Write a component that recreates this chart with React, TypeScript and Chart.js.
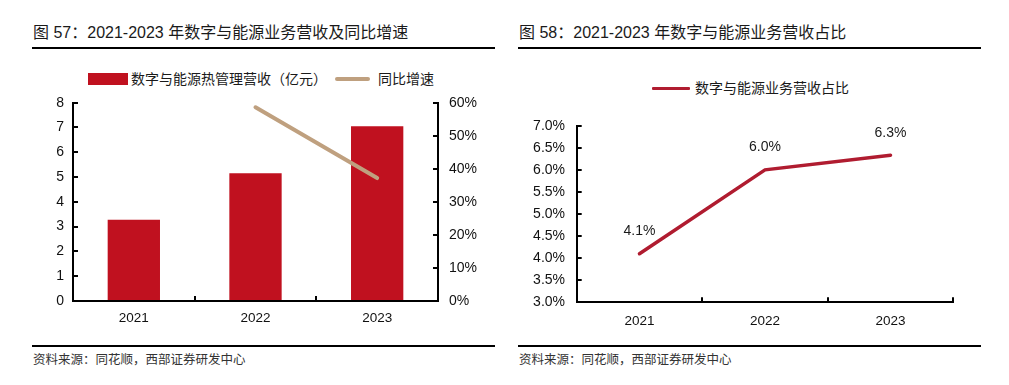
import React, { useEffect, useRef } from "react";
import { Chart, registerables } from "chart.js";

Chart.register(...registerables);

// ---------- data ----------
const years = ["2021", "2022", "2023"];
const revenue = [3.28, 5.15, 7.05]; // 数字与能源热管理营收（亿元）
const growth: (number | null)[] = [null, 58.6, 37.2]; // 同比增速 %
const revenueTicks = [0, 1, 2, 3, 4, 5, 6, 7, 8];
const growthTicks = [0, 10, 20, 30, 40, 50, 60];

const shareYears = ["2021", "2022", "2023"];
const share = [4.1, 6.0, 6.33]; // 数字与能源业务营收占比 %
const shareTicks = [3.0, 3.5, 4.0, 4.5, 5.0, 5.5, 6.0, 6.5, 7.0];

// ---------- styles ----------
const RED = "#c0111f";
const TAN = "#bfa07f";
const DARK_RED = "#b01c30";
const LATIN = "'Liberation Sans', Arial, 'Noto Sans CJK SC', sans-serif";
const CJK = "'Liberation Sans', 'Noto Sans CJK SC', sans-serif";

const axisGrid = {
  drawOnChartArea: false,
  drawTicks: true,
  tickLength: -5,
  color: "#000",
  lineWidth: 2,
};
const axisBorder = { color: "#000", width: 2 };

const fixY = (w: number) => (s: any) => {
  s.width = w;
  s.paddingTop = 8;
  s.paddingBottom = 8;
};

function LeftChart() {
  const ref = useRef<HTMLCanvasElement>(null);
  useEffect(() => {
    const chart = new Chart(ref.current!, {
      type: "bar",
      data: {
        labels: years,
        datasets: [
          {
            type: "line",
            label: "同比增速",
            data: growth,
            yAxisID: "y1",
            borderColor: TAN,
            backgroundColor: TAN,
            borderWidth: 4,
            borderCapStyle: "round",
            pointRadius: 0,
            order: 0,
          } as any,
          {
            type: "bar",
            label: "数字与能源热管理营收（亿元）",
            data: revenue,
            yAxisID: "y",
            backgroundColor: RED,
            categoryPercentage: 1,
            barPercentage: 0.43,
            order: 1,
          },
        ],
      },
      options: {
        animation: false,
        responsive: false,
        maintainAspectRatio: false,
        layout: { padding: { top: 12.7, left: 0, right: 0, bottom: 0 } },
        plugins: { legend: { display: false }, tooltip: { enabled: false } },
        scales: {
          x: {
            offset: true,
            grid: { ...axisGrid, offset: true },
            border: axisBorder,
            ticks: { padding: 14, color: "#111", font: { family: LATIN, size: 13.5 } },
            afterFit: (s: any) => {
              s.height = 34;
            },
          },
          y: {
            position: "left",
            min: revenueTicks[0],
            max: revenueTicks[revenueTicks.length - 1],
            grid: axisGrid,
            border: axisBorder,
            ticks: {
              stepSize: revenueTicks[1] - revenueTicks[0],
              padding: 14,
              color: "#111",
              font: { family: LATIN, size: 14 },
            },
            afterFit: fixY(73),
          },
          y1: {
            position: "right",
            min: growthTicks[0],
            max: growthTicks[growthTicks.length - 1],
            grid: axisGrid,
            border: axisBorder,
            ticks: {
              stepSize: growthTicks[1] - growthTicks[0],
              padding: 16,
              color: "#111",
              font: { family: LATIN, size: 14 },
              callback: (v: any) => `${v}%`,
            },
            afterFit: fixY(62),
          },
        },
      } as any,
    });
    return () => chart.destroy();
  }, []);
  return (
    <canvas
      ref={ref}
      width={500}
      height={245}
      style={{ position: "absolute", left: 0, top: 90, width: 500, height: 245 }}
    />
  );
}

const pointLabels = {
  id: "pointLabels",
  afterDatasetsDraw(chart: any) {
    const ctx = chart.ctx;
    const meta = chart.getDatasetMeta(0);
    const values = chart.data.datasets[0].data as number[];
    ctx.save();
    ctx.font = `14px ${LATIN}`;
    ctx.fillStyle = "#1a1a1a";
    ctx.textAlign = "center";
    ctx.textBaseline = "middle";
    meta.data.forEach((el: any, i: number) => {
      ctx.fillText(`${values[i].toFixed(1)}%`, el.x, el.y - 22.5);
    });
    ctx.restore();
  },
};

function RightChart() {
  const ref = useRef<HTMLCanvasElement>(null);
  useEffect(() => {
    const chart = new Chart(ref.current!, {
      type: "line",
      data: {
        labels: shareYears,
        datasets: [
          {
            label: "数字与能源业务营收占比",
            data: share,
            borderColor: DARK_RED,
            backgroundColor: DARK_RED,
            borderWidth: 3.5,
            borderCapStyle: "round",
            pointRadius: 0,
            tension: 0,
          },
        ],
      },
      options: {
        animation: false,
        responsive: false,
        maintainAspectRatio: false,
        layout: { padding: { top: 30.7, left: 0, right: 31.7, bottom: 0 } },
        plugins: { legend: { display: false }, tooltip: { enabled: false } },
        scales: {
          x: {
            offset: true,
            grid: { ...axisGrid, offset: true },
            border: axisBorder,
            ticks: { padding: 16, color: "#111", font: { family: LATIN, size: 13.5 } },
            afterFit: (s: any) => {
              s.height = 32.7;
            },
          },
          y: {
            min: shareTicks[0],
            max: shareTicks[shareTicks.length - 1],
            grid: axisGrid,
            border: axisBorder,
            ticks: {
              stepSize: shareTicks[1] - shareTicks[0],
              padding: 16.7,
              color: "#111",
              font: { family: LATIN, size: 14 },
              callback: (v: any) => `${Number(v).toFixed(1)}%`,
            },
            afterFit: fixY(71.7),
          },
        },
      } as any,
      plugins: [pointLabels],
    });
    return () => chart.destroy();
  }, []);
  return (
    <canvas
      ref={ref}
      width={480}
      height={240}
      style={{ position: "absolute", left: 505, top: 95, width: 480, height: 240 }}
    />
  );
}

const abs = (o: React.CSSProperties): React.CSSProperties => ({ position: "absolute", ...o });

export default function App() {
  const titleStyle: React.CSSProperties = {
    fontFamily: CJK,
    fontSize: 16,
    lineHeight: "20px",
    color: "#1a1a1a",
    whiteSpace: "nowrap",
  };
  const footStyle: React.CSSProperties = {
    fontFamily: CJK,
    fontSize: 12.5,
    letterSpacing: 0,
    lineHeight: "16px",
    color: "#333",
    whiteSpace: "nowrap",
  };
  const legendText: React.CSSProperties = {
    fontFamily: CJK,
    fontSize: 14,
    lineHeight: "18px",
    color: "#1a1a1a",
    whiteSpace: "nowrap",
  };
  return (
    <div style={abs({ left: 0, top: 0, width: 1009, height: 385, background: "#fff", overflow: "hidden" })}>
      {/* left panel */}
      <div style={abs({ left: 33, top: 23, ...titleStyle })}>图 57：2021-2023 年数字与能源业务营收及同比增速</div>
      <div style={abs({ left: 32, top: 47, width: 463, height: 1.5, background: "#000" })} />
      <div style={abs({ left: 88, top: 73, width: 40, height: 12, background: RED })} />
      <div style={abs({ left: 131, top: 70, ...legendText })}>数字与能源热管理营收（亿元）</div>
      <div style={abs({ left: 335, top: 77, width: 35, height: 4, background: TAN, borderRadius: 2 })} />
      <div style={abs({ left: 378, top: 70, ...legendText })}>同比增速</div>
      <LeftChart />
      <div style={abs({ left: 32, top: 345, width: 463, height: 1.5, background: "#000" })} />
      <div style={abs({ left: 33, top: 352, ...footStyle })}>资料来源：同花顺，西部证券研发中心</div>

      {/* right panel */}
      <div style={abs({ left: 519, top: 23, ...titleStyle })}>图 58：2021-2023 年数字与能源业务营收占比</div>
      <div style={abs({ left: 518, top: 47, width: 463, height: 1.5, background: "#000" })} />
      <div style={abs({ left: 652, top: 86.5, width: 38, height: 3.5, background: DARK_RED, borderRadius: 1 })} />
      <div style={abs({ left: 695, top: 79, ...legendText })}>数字与能源业务营收占比</div>
      <RightChart />
      <div style={abs({ left: 518, top: 345, width: 463, height: 1.5, background: "#000" })} />
      <div style={abs({ left: 519, top: 352, ...footStyle })}>资料来源：同花顺，西部证券研发中心</div>
    </div>
  );
}
